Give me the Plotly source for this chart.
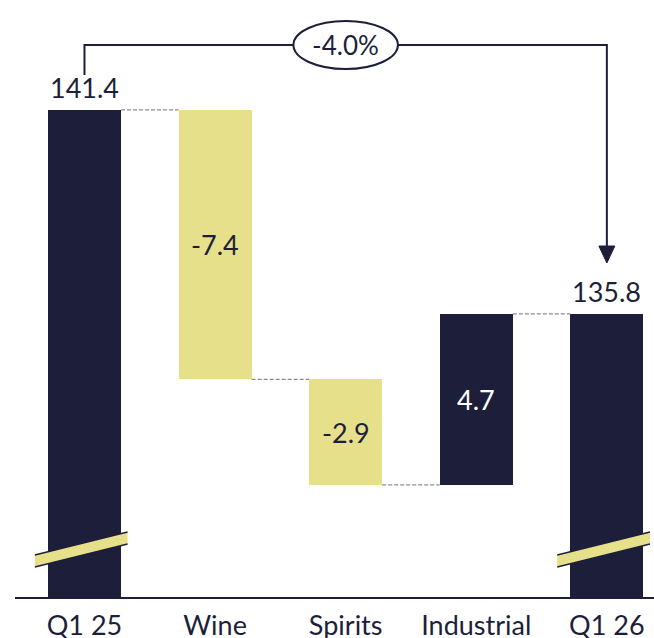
import plotly.graph_objects as go

categories = ["Q1 25", "Wine", "Spirits", "Industrial", "Q1 26"]
values = [141.4, -7.4, -2.9, 4.7, 135.8]
kinds = ["total", "delta", "delta", "delta", "total"]
labels = ["141.4", "-7.4", "-2.9", "4.7", "135.8"]
change_label = "-4.0%"

DARK = "#1d1f3a"
YELLOW = "#e7e08a"
GREY = "#8c8c99"
FONT = "Lato"

Y_MIN, Y_MAX = 128.02, 144.42
PLOT_H = 597
PPU = PLOT_H / (Y_MAX - Y_MIN)


def py(pix):
    """pixel row (from top of plot) -> data value"""
    return Y_MAX - pix / PPU


# compute floating bars
bases, heights, colors, tops = [], [], [], []
level = 0
for v, k in zip(values, kinds):
    if k == "total":
        bases.append(0)
        heights.append(v)
        colors.append(DARK)
        level = v
        tops.append(v)
    else:
        start = level
        level = level + v
        bases.append(min(start, level))
        heights.append(abs(v))
        colors.append(DARK if v > 0 else YELLOW)
        tops.append(max(start, level))

x_idx = list(range(len(categories)))
BW = 0.56

fig = go.Figure()
fig.add_trace(go.Bar(
    x=x_idx, y=heights, base=bases, width=BW,
    marker=dict(color=colors, line=dict(width=0)),
    hoverinfo="skip", showlegend=False,
))

shapes = []
annotations = []

# connectors
lvl = []
level = 0
for v, k in zip(values, kinds):
    level = v if k == "total" else level + v
    lvl.append(level)
for i in range(len(values) - 1):
    shapes.append(dict(type="line", xref="x", yref="y",
                       x0=i + BW / 2, x1=i + 1 - BW / 2, y0=lvl[i], y1=lvl[i],
                       line=dict(color=GREY, width=1.3, dash="4px,2px")))

# labels
for i, (k, v) in enumerate(zip(kinds, values)):
    if k == "total":
        annotations.append(dict(x=i, y=tops[i], xref="x", yref="y", text=labels[i],
                                showarrow=False, yanchor="bottom", yshift=4,
                                font=dict(family=FONT, size=27, color=DARK)))
    else:
        annotations.append(dict(x=i, y=bases[i] + heights[i] / 2, xref="x", yref="y",
                                text=labels[i], showarrow=False, yanchor="middle",
                                font=dict(family=FONT, size=27,
                                          color="white" if v > 0 else DARK)))

# break marks on total bars
for i, k in enumerate(kinds):
    if k != "total":
        continue
    xl, xr = i - 0.38, i + 0.33
    yl_t, yl_b = py(555), py(567)
    yr_t, yr_b = py(532), py(544)
    shapes.append(dict(type="path", xref="x", yref="y",
                       path=f"M {xl},{yl_t} L {xr},{yr_t} L {xr},{yr_b} L {xl},{yl_b} Z",
                       fillcolor=YELLOW, line=dict(width=0)))
    shapes.append(dict(type="line", xref="x", yref="y", x0=xl, x1=xr, y0=yl_t, y1=yr_t,
                       line=dict(color=DARK, width=1.5)))
    shapes.append(dict(type="line", xref="x", yref="y", x0=xl, x1=xr, y0=yl_b, y1=yr_b,
                       line=dict(color=DARK, width=1.5)))

# bracket with arrow
first, last = 0, len(categories) - 1
mid = (first + last) / 2
yb = py(45)
shapes.append(dict(type="path", xref="x", yref="y",
                   path=f"M {first},{py(75)} L {first},{yb} L {last},{yb} L {last},{py(250)}",
                   line=dict(color=DARK, width=2)))
aw = 8 / 130.6
shapes.append(dict(type="path", xref="x", yref="y",
                   path=f"M {last - aw},{py(246)} L {last + aw},{py(246)} L {last},{py(263)} Z",
                   fillcolor=DARK, line=dict(color=DARK, width=1)))
shapes.append(dict(type="circle", xref="x", yref="y",
                   x0=mid - 0.4, x1=mid + 0.4, y0=py(21), y1=py(69),
                   fillcolor="white", line=dict(color=DARK, width=2)))
annotations.append(dict(x=mid, y=yb, xref="x", yref="y", text=change_label,
                        showarrow=False, font=dict(family=FONT, size=26, color=DARK)))

fig.update_layout(
    width=654, height=638,
    margin=dict(l=15, r=0, t=0, b=41, autoexpand=False),
    plot_bgcolor="white", paper_bgcolor="white",
    shapes=shapes, annotations=annotations,
    xaxis=dict(range=[-0.532, 4.361], tickmode="array", tickvals=x_idx,
               ticktext=categories, showgrid=False, zeroline=False,
               showline=True, linecolor=DARK, linewidth=2, ticks="",
               ticklabelstandoff=4, automargin=False,
               tickfont=dict(family=FONT, size=27, color=DARK)),
    yaxis=dict(range=[Y_MIN, Y_MAX], visible=False, showgrid=False),
    bargap=0,
)

fig.write_html("out.html", config={"displayModeBar": False},
               post_script="document.body.style.margin='0';document.body.style.overflow='hidden';")
